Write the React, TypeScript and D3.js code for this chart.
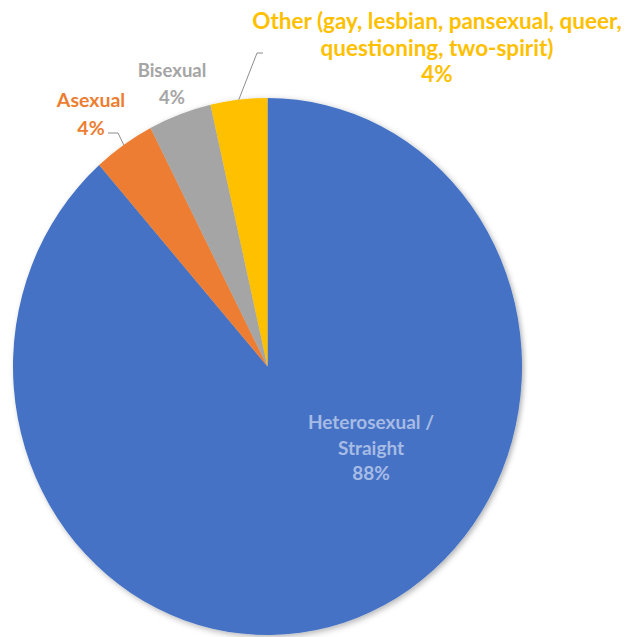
import React from "react";
import * as d3 from "d3";

const categories = ["Heterosexual / Straight", "Asexual", "Bisexual", "Other"];
const values = [88.5, 3.9, 4.0, 3.6];
const percentLabels = ["88%", "4%", "4%", "4%"];
const labelLines = [
  ["Heterosexual /", "Straight"],
  ["Asexual"],
  ["Bisexual"],
  ["Other (gay, lesbian, pansexual, queer,", "questioning, two-spirit)"],
];
const colors = ["#4472C4", "#ED7D31", "#A5A5A5", "#FFC000"];
const textColors = ["#A6BBE5", "#ED7D31", "#A5A5A5", "#FFC000"];

const W = 627;
const H = 637;
const cx = 267.5;
const cy = 366.5;
const rx = 254.5;
const ry = 268.5;

// label anchor positions (center x, first baseline y), font size, line gap
const labelPos = [
  [371, 429],
  [91, 107],
  [172, 77],
  [437, 29],
];
const labelSize = [19, 19.5, 18.5, 22.5];
const labelGap = [25.5, 27.5, 27, 26.5];
// leader elbows: [text-side x, y, elbow x]
const leaders: (number[] | null)[] = [
  null,
  [108, 133, 118],
  null,
  [263, 53, 257],
];

export default function App() {
  const pie = d3.pie<number>().sort(null).value((d) => d)(values);
  const arc = d3.arc<d3.PieArcDatum<number>>().innerRadius(0).outerRadius(ry);
  const sx = rx / ry;

  const rimPoint = (a: number) => [cx + Math.sin(a) * rx, cy - Math.cos(a) * ry];

  return (
    <svg
      width={W}
      height={H}
      style={{ position: "absolute", left: 0, top: 0, background: "#fff" }}
      fontFamily="Lato, 'Open Sans', sans-serif"
      fontWeight="bold"
    >
      <defs>
        <filter id="sh" x="-10%" y="-10%" width="120%" height="120%">
          <feDropShadow dx="2" dy="2" stdDeviation="3" floodColor="#000" floodOpacity="0.3" />
        </filter>
      </defs>
      <g transform={`translate(${cx},${cy}) scale(${sx},1)`} filter="url(#sh)">
        {pie.map((p, i) => (
          <path key={categories[i]} d={arc(p) || ""} fill={colors[i]} />
        ))}
      </g>
      {pie.map((p, i) => {
        const L = leaders[i];
        if (!L) return null;
        const mid = (p.startAngle + p.endAngle) / 2;
        const [ex, ey] = rimPoint(mid);
        return (
          <polyline
            key={"l" + i}
            points={`${L[0]},${L[1]} ${L[2]},${L[1]} ${ex},${ey}`}
            fill="none"
            stroke="#8C8C8C"
            strokeWidth={1}
          />
        );
      })}
      {labelLines.map((lines, i) => {
        const [x, y] = labelPos[i];
        const all = [...lines, percentLabels[i]];
        return (
          <text key={"t" + i} x={x} y={y} textAnchor="middle" fill={textColors[i]} fontSize={labelSize[i]}>
            {all.map((s, j) => (
              <tspan key={j} x={x} y={y + j * labelGap[i]}>
                {s}
              </tspan>
            ))}
          </text>
        );
      })}
    </svg>
  );
}
